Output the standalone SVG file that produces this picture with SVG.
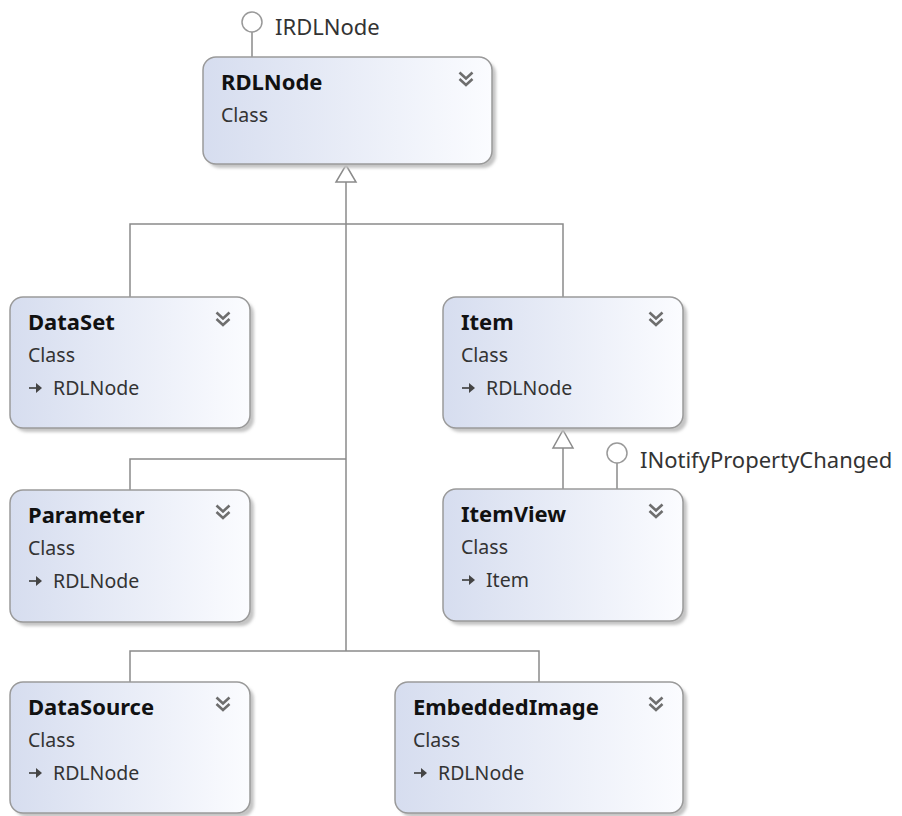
<svg xmlns="http://www.w3.org/2000/svg" width="902" height="816" viewBox="0 0 902 816">
<style>
.box{fill:url(#g);stroke:#9a9a9a;stroke-width:1.5}
.sh{fill:#c4c4c4;filter:url(#blur)}
.t{font-family:"Noto Sans","Open Sans",sans-serif;font-size:22px;font-weight:bold;fill:#111}
.s{font-family:"Noto Sans","Open Sans",sans-serif;font-size:19.5px;fill:#333}
.lbl{font-family:"Noto Sans","Open Sans",sans-serif;font-size:22px;fill:#333}
.chev{fill:none;stroke:#6e6e6e;stroke-width:2.6}
.ic{fill:none;stroke:#444;stroke-width:1.7}
.icf{fill:#444}
.c{fill:none;stroke:#8a8a8a;stroke-width:1.5}
.tri{fill:#fff;stroke:#8a8a8a;stroke-width:1.5}
.lol{fill:#fff;stroke:#999;stroke-width:1.5}
</style>
<defs>
<linearGradient id="g" x1="0" y1="0" x2="1" y2="0">
<stop offset="0" stop-color="#d6ddef"/>
<stop offset="1" stop-color="#fbfcff"/>
</linearGradient>
<filter id="blur" x="-10%" y="-10%" width="120%" height="120%"><feGaussianBlur stdDeviation="1.5"/></filter>
<symbol id="chevron" viewBox="0 0 14 14" overflow="visible">
<path class="chev" d="M0.5,0.5 L7,6.5 L13.5,0.5 M0.5,7 L7,13 L13.5,7"/>
</symbol>
<symbol id="inh" overflow="visible">
<path class="ic" d="M-1,0 H8"/>
<path class="icf" d="M6,-5 L12,0 L6,5 Z"/>
</symbol>
</defs>

<g id="connectors">
<path class="c" d="M346,182 V651"/>
<path class="c" d="M130,297 V224 H563 V297"/>
<path class="c" d="M130,490 V459 H346"/>
<path class="c" d="M130,682 V651 H539 V682"/>
<path class="tri" d="M346,165 L356,182 L336,182 Z"/>
<path class="c" d="M563,448 V489"/>
<path class="tri" d="M563,430 L573,448 L553,448 Z"/>
<path class="c" d="M252,32 V57"/>
<circle class="lol" cx="252" cy="22" r="10"/>
<text class="lbl" x="275" y="35">IRDLNode</text>
<path class="c" d="M617,463 V489"/>
<circle class="lol" cx="617" cy="453" r="10"/>
<text class="lbl" x="640" y="468">INotifyPropertyChanged</text>
</g>

<g id="RDLNode">
<rect class="sh" x="207" y="61" width="289" height="107" rx="13"/>
<rect class="box" x="203" y="57" width="289" height="107" rx="13"/>
<text class="t" x="221" y="90">RDLNode</text>
<text class="s" x="221" y="122">Class</text>
<use href="#chevron" x="459" y="72" width="14" height="14"/>
</g>

<g id="DataSet">
<rect class="sh" x="14" y="301" width="240" height="131" rx="13"/>
<rect class="box" x="10" y="297" width="240" height="131" rx="13"/>
<text class="t" x="28" y="330">DataSet</text>
<text class="s" x="28" y="362">Class</text>
<use href="#inh" x="30" y="388"/>
<text class="s" x="53" y="395">RDLNode</text>
<use href="#chevron" x="216" y="312" width="14" height="14"/>
</g>

<g id="Item">
<rect class="sh" x="447" y="301" width="240" height="131" rx="13"/>
<rect class="box" x="443" y="297" width="240" height="131" rx="13"/>
<text class="t" x="461" y="330">Item</text>
<text class="s" x="461" y="362">Class</text>
<use href="#inh" x="463" y="388"/>
<text class="s" x="486" y="395">RDLNode</text>
<use href="#chevron" x="649" y="312" width="14" height="14"/>
</g>

<g id="Parameter">
<rect class="sh" x="14" y="494" width="240" height="132" rx="13"/>
<rect class="box" x="10" y="490" width="240" height="132" rx="13"/>
<text class="t" x="28" y="523">Parameter</text>
<text class="s" x="28" y="555">Class</text>
<use href="#inh" x="30" y="581"/>
<text class="s" x="53" y="588">RDLNode</text>
<use href="#chevron" x="216" y="505" width="14" height="14"/>
</g>

<g id="ItemView">
<rect class="sh" x="447" y="493" width="240" height="132" rx="13"/>
<rect class="box" x="443" y="489" width="240" height="132" rx="13"/>
<text class="t" x="461" y="522">ItemView</text>
<text class="s" x="461" y="554">Class</text>
<use href="#inh" x="463" y="580"/>
<text class="s" x="486" y="587">Item</text>
<use href="#chevron" x="649" y="504" width="14" height="14"/>
</g>

<g id="DataSource">
<rect class="sh" x="14" y="686" width="240" height="131" rx="13"/>
<rect class="box" x="10" y="682" width="240" height="131" rx="13"/>
<text class="t" x="28" y="715">DataSource</text>
<text class="s" x="28" y="747">Class</text>
<use href="#inh" x="30" y="773"/>
<text class="s" x="53" y="780">RDLNode</text>
<use href="#chevron" x="216" y="697" width="14" height="14"/>
</g>

<g id="EmbeddedImage">
<rect class="sh" x="399" y="686" width="288" height="131" rx="13"/>
<rect class="box" x="395" y="682" width="288" height="131" rx="13"/>
<text class="t" x="413" y="715">EmbeddedImage</text>
<text class="s" x="413" y="747">Class</text>
<use href="#inh" x="415" y="773"/>
<text class="s" x="438" y="780">RDLNode</text>
<use href="#chevron" x="649" y="697" width="14" height="14"/>
</g>
</svg>
